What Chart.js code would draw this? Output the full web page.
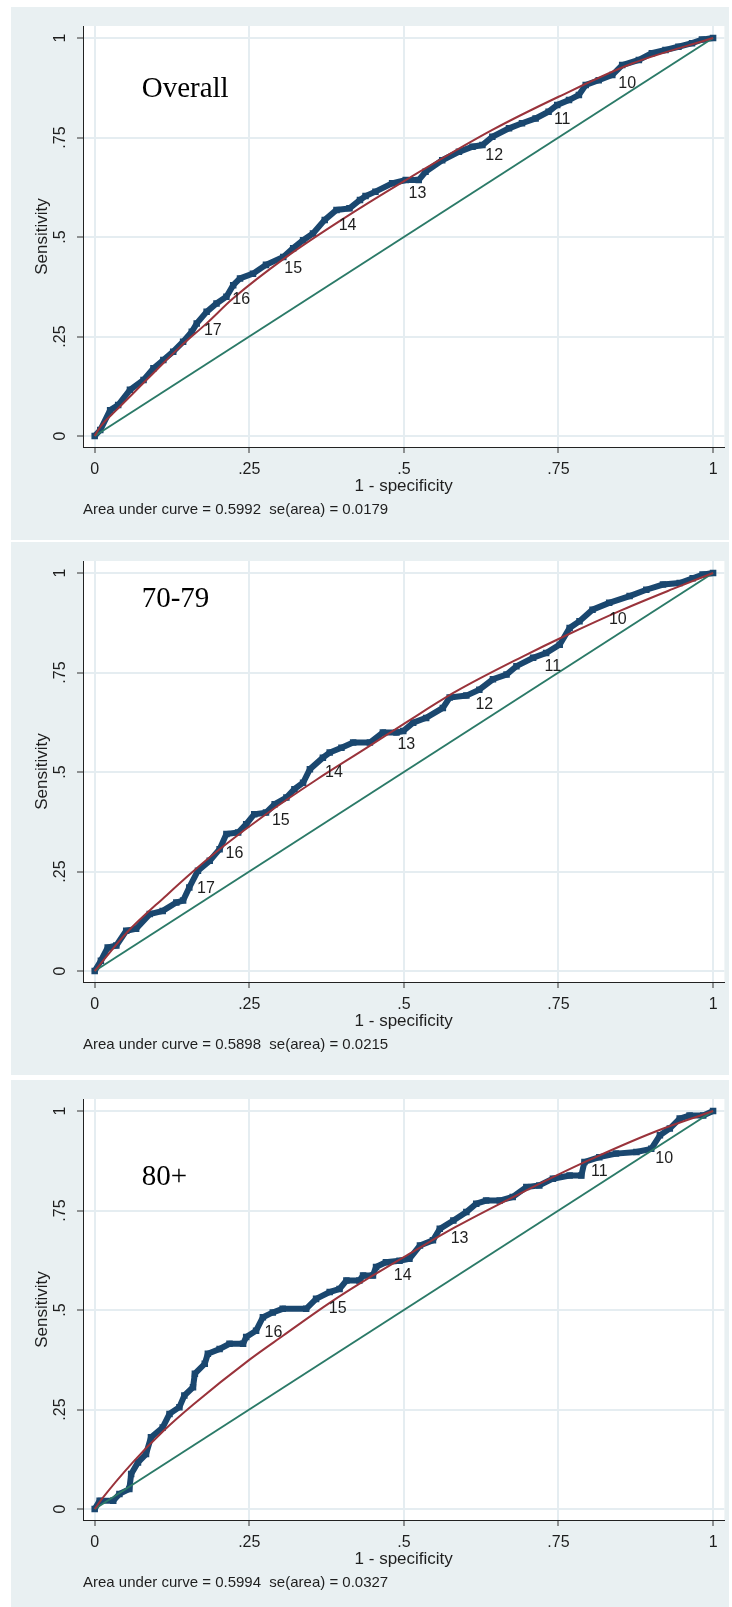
<!DOCTYPE html>
<html>
<head>
<meta charset="utf-8">
<script src="https://cdn.jsdelivr.net/npm/chart.js@4.4.1/dist/chart.umd.min.js"></script>
<style>
  html, body { margin: 0; padding: 0; background: #ffffff; overflow: hidden; }
  body { width: 732px; height: 1607px; position: relative; }
  .panel { position: absolute; left: 11px; width: 718px; height: 533px; background: #e9f0f2; }
  .panel canvas { display: block; }
</style>
</head>
<body>
<div class="panel" style="top:7px"><canvas id="chartOverall" width="718" height="533"></canvas></div>
<div class="panel" style="top:542px"><canvas id="chart7079" width="718" height="533"></canvas></div>
<div class="panel" style="top:1080px"><canvas id="chart80" width="718" height="533"></canvas></div>
<script>
const tickValues = [0, 0.25, 0.5, 0.75, 1];
const tickLabels = ["0", ".25", ".5", ".75", "1"];
const diagX = [0, 1];
const diagY = [0, 1];

// Overall
const overallFpr = [0, 0.009, 0.025, 0.038, 0.057, 0.079, 0.095, 0.111, 0.127, 0.143, 0.157, 0.165, 0.181, 0.197, 0.213, 0.224, 0.235, 0.256, 0.277, 0.305, 0.321, 0.337, 0.353, 0.372, 0.391, 0.412, 0.429, 0.438, 0.454, 0.481, 0.503, 0.524, 0.535, 0.562, 0.589, 0.611, 0.627, 0.643, 0.670, 0.691, 0.713, 0.734, 0.748, 0.767, 0.783, 0.794, 0.815, 0.837, 0.853, 0.880, 0.901, 0.923, 0.944, 0.966, 0.982, 1];
const overallSens = [0, 0.015, 0.065, 0.078, 0.116, 0.141, 0.170, 0.191, 0.212, 0.237, 0.262, 0.283, 0.312, 0.333, 0.350, 0.379, 0.396, 0.408, 0.430, 0.450, 0.472, 0.492, 0.509, 0.543, 0.568, 0.572, 0.593, 0.603, 0.614, 0.635, 0.643, 0.643, 0.664, 0.693, 0.714, 0.727, 0.731, 0.752, 0.773, 0.786, 0.798, 0.815, 0.832, 0.844, 0.857, 0.882, 0.894, 0.907, 0.932, 0.945, 0.962, 0.970, 0.978, 0.987, 0.996, 1];
const overallFitX = [0, 0.009, 0.035, 0.062, 0.100, 0.138, 0.181, 0.224, 0.310, 0.396, 0.503, 0.643, 0.751, 0.869, 1];
const overallFitY = [0, 0.023, 0.065, 0.107, 0.166, 0.224, 0.283, 0.346, 0.450, 0.540, 0.643, 0.769, 0.853, 0.936, 1];
const overallCutText = ["17", "16", "15", "14", "13", "12", "11", "10"];
const overallCutX = [0.191, 0.237, 0.321, 0.409, 0.522, 0.646, 0.756, 0.861];
const overallCutY = [0.266, 0.343, 0.421, 0.528, 0.610, 0.704, 0.796, 0.886];

// 70-79
const age7079Fpr = [0, 0.010, 0.021, 0.035, 0.051, 0.067, 0.089, 0.110, 0.132, 0.143, 0.153, 0.167, 0.186, 0.202, 0.213, 0.232, 0.245, 0.258, 0.277, 0.291, 0.310, 0.323, 0.337, 0.348, 0.369, 0.380, 0.399, 0.418, 0.445, 0.466, 0.488, 0.499, 0.515, 0.536, 0.563, 0.574, 0.601, 0.622, 0.644, 0.666, 0.682, 0.709, 0.730, 0.752, 0.768, 0.784, 0.805, 0.832, 0.865, 0.892, 0.919, 0.946, 0.967, 0.983, 1];
const age7079Sens = [0, 0.026, 0.059, 0.064, 0.101, 0.106, 0.143, 0.151, 0.172, 0.177, 0.210, 0.252, 0.277, 0.306, 0.344, 0.348, 0.369, 0.394, 0.398, 0.419, 0.436, 0.457, 0.473, 0.507, 0.536, 0.549, 0.561, 0.574, 0.574, 0.599, 0.599, 0.603, 0.624, 0.636, 0.661, 0.687, 0.692, 0.707, 0.733, 0.745, 0.766, 0.787, 0.799, 0.820, 0.862, 0.879, 0.908, 0.925, 0.942, 0.958, 0.971, 0.975, 0.987, 0.996, 1];
const age7079FitX = [0, 0.051, 0.116, 0.159, 0.207, 0.277, 0.358, 0.439, 0.514, 0.585, 0.692, 0.762, 0.854, 0.935, 1];
const age7079FitY = [0, 0.095, 0.190, 0.250, 0.312, 0.394, 0.480, 0.560, 0.635, 0.703, 0.790, 0.843, 0.908, 0.960, 1];
const age7079CutText = ["17", "16", "15", "14", "13", "12", "11", "10"];
const age7079CutX = [0.180, 0.226, 0.301, 0.387, 0.504, 0.630, 0.741, 0.846];
const age7079CutY = [0.206, 0.294, 0.377, 0.498, 0.570, 0.670, 0.766, 0.883];

// 80+
const age80Fpr = [0, 0.008, 0.030, 0.040, 0.056, 0.059, 0.070, 0.083, 0.091, 0.110, 0.121, 0.137, 0.145, 0.159, 0.162, 0.178, 0.183, 0.202, 0.218, 0.240, 0.245, 0.261, 0.272, 0.288, 0.304, 0.342, 0.358, 0.380, 0.396, 0.407, 0.428, 0.434, 0.450, 0.455, 0.471, 0.493, 0.509, 0.526, 0.547, 0.558, 0.580, 0.601, 0.617, 0.633, 0.655, 0.676, 0.698, 0.719, 0.741, 0.768, 0.787, 0.792, 0.816, 0.843, 0.876, 0.900, 0.914, 0.930, 0.946, 0.962, 0.984, 1];
const age80Sens = [0, 0.021, 0.021, 0.038, 0.050, 0.088, 0.117, 0.138, 0.180, 0.205, 0.239, 0.256, 0.285, 0.306, 0.340, 0.365, 0.390, 0.402, 0.415, 0.415, 0.432, 0.448, 0.482, 0.494, 0.503, 0.503, 0.528, 0.545, 0.553, 0.574, 0.574, 0.587, 0.587, 0.608, 0.620, 0.624, 0.629, 0.662, 0.675, 0.704, 0.725, 0.746, 0.767, 0.775, 0.775, 0.784, 0.809, 0.813, 0.830, 0.838, 0.838, 0.872, 0.884, 0.893, 0.897, 0.905, 0.939, 0.956, 0.981, 0.989, 0.989, 1];
const age80FitX = [0, 0.012, 0.062, 0.111, 0.159, 0.251, 0.305, 0.380, 0.448, 0.513, 0.583, 0.691, 0.793, 0.906, 1];
const age80FitY = [0, 0.026, 0.118, 0.196, 0.262, 0.376, 0.436, 0.518, 0.585, 0.645, 0.708, 0.795, 0.872, 0.948, 1];
const age80CutText = ["16", "15", "14", "13", "11", "10"];
const age80CutX = [0.289, 0.393, 0.498, 0.590, 0.816, 0.921];
const age80CutY = [0.444, 0.503, 0.587, 0.679, 0.847, 0.880];

const sansFont = "'Liberation Sans', Arial, sans-serif";
const serifFont = "'Liberation Serif', 'Times New Roman', serif";
const textColor = "#1e1e1e";
const gridColor = "#e5edf1";

function toPoints(xs, ys) {
  return xs.map((x, i) => ({ x, y: ys[i] }));
}

// white plot region + panel label + cutpoint labels
const panelDecor = {
  id: "panelDecor",
  beforeDraw(chart) {
    const { ctx, chartArea } = chart;
    ctx.save();
    ctx.fillStyle = "#ffffff";
    ctx.fillRect(chartArea.left, chartArea.top, chartArea.right - chartArea.left, chartArea.bottom - chartArea.top);
    ctx.restore();
  },
  afterDatasetsDraw(chart, args, opts) {
    const { ctx } = chart;
    const xs = chart.scales.x;
    const ys = chart.scales.y;
    ctx.save();
    ctx.fillStyle = textColor;
    ctx.font = `16px ${sansFont}`;
    ctx.textAlign = "center";
    ctx.textBaseline = "middle";
    opts.cutText.forEach((t, i) => {
      ctx.fillText(t, xs.getPixelForValue(opts.cutX[i]), ys.getPixelForValue(opts.cutY[i]));
    });
    ctx.fillStyle = "#000000";
    ctx.font = `29px ${serifFont}`;
    ctx.textAlign = "left";
    ctx.textBaseline = "alphabetic";
    ctx.fillText(opts.label, xs.getPixelForValue(opts.labelX), ys.getPixelForValue(opts.labelY));
    ctx.restore();
  }
};

function makePanel(canvasId, cfg) {
  return new Chart(document.getElementById(canvasId), {
    type: "scatter",
    data: {
      datasets: [
        {
          data: toPoints(cfg.fitX, cfg.fitY),
          showLine: true,
          borderColor: "#9a333b",
          borderWidth: 2,
          pointRadius: 0,
          cubicInterpolationMode: "monotone"
        },
        {
          data: toPoints(diagX, diagY),
          showLine: true,
          borderColor: "#2b7a68",
          borderWidth: 2,
          pointRadius: 0
        },
        {
          data: toPoints(cfg.fpr, cfg.sens),
          showLine: true,
          borderColor: "#1a476f",
          backgroundColor: "#1a476f",
          borderWidth: 6,
          pointStyle: "rect",
          pointRadius: 4.6,
          pointBorderWidth: 0
        }
      ]
    },
    options: {
      responsive: false,
      animation: false,
      events: [],
      layout: { padding: { left: 0, right: 4, top: 19, bottom: 21 } },
      plugins: {
        legend: { display: false },
        tooltip: { enabled: false },
        title: {
          display: true,
          text: cfg.note,
          position: "bottom",
          align: "start",
          fullSize: false,
          color: textColor,
          font: { family: sansFont, size: 15, weight: "normal" },
          padding: { top: 0, bottom: 0 }
        },
        panelDecor: {
          label: cfg.label, labelX: cfg.labelX, labelY: cfg.labelY,
          cutText: cfg.cutText, cutX: cfg.cutX, cutY: cfg.cutY
        }
      },
      scales: {
        x: {
          type: "linear",
          min: -0.0189,
          max: 1.0183,
          afterFit: s => { s.height = 54; },
          afterBuildTicks: s => { s.ticks = tickValues.map(v => ({ value: v })); },
          ticks: {
            callback: v => tickLabels[tickValues.indexOf(v)],
            color: textColor,
            font: { family: sansFont, size: 16 },
            padding: 7,
            maxRotation: 0
          },
          grid: { color: gridColor, lineWidth: 2, tickColor: "#333333", tickLength: 6, tickWidth: 1 },
          border: { display: true, color: "#222222", width: 1 },
          title: {
            display: true,
            text: "1 - specificity",
            color: textColor,
            font: { family: sansFont, size: 17 },
            padding: { top: 0, bottom: 4 }
          }
        },
        y: {
          type: "linear",
          min: -0.0276,
          max: 1.0302,
          afterFit: s => { s.width = 72; },
          afterBuildTicks: s => { s.ticks = tickValues.map(v => ({ value: v })); },
          ticks: {
            callback: v => tickLabels[tickValues.indexOf(v)],
            color: textColor,
            font: { family: sansFont, size: 16 },
            minRotation: 90,
            maxRotation: 90,
            crossAlign: "center",
            padding: 5
          },
          grid: { color: gridColor, lineWidth: 2, tickColor: "#333333", tickLength: 6, tickWidth: 1 },
          border: { display: true, color: "#222222", width: 1 },
          title: {
            display: true,
            text: "Sensitivity",
            color: textColor,
            font: { family: sansFont, size: 17 },
            padding: { top: 21, bottom: 0 }
          }
        }
      }
    },
    plugins: [panelDecor]
  });
}

makePanel("chartOverall", {
  fpr: overallFpr, sens: overallSens, fitX: overallFitX, fitY: overallFitY,
  cutText: overallCutText, cutX: overallCutX, cutY: overallCutY,
  label: "Overall", labelX: 0.076, labelY: 0.852,
  note: "Area under curve = 0.5992  se(area) = 0.0179"
});

makePanel("chart7079", {
  fpr: age7079Fpr, sens: age7079Sens, fitX: age7079FitX, fitY: age7079FitY,
  cutText: age7079CutText, cutX: age7079CutX, cutY: age7079CutY,
  label: "70-79", labelX: 0.076, labelY: 0.915,
  note: "Area under curve = 0.5898  se(area) = 0.0215"
});

makePanel("chart80", {
  fpr: age80Fpr, sens: age80Sens, fitX: age80FitX, fitY: age80FitY,
  cutText: age80CutText, cutX: age80CutX, cutY: age80CutY,
  label: "80+", labelX: 0.076, labelY: 0.813,
  note: "Area under curve = 0.5994  se(area) = 0.0327"
});
</script>
</body>
</html>
